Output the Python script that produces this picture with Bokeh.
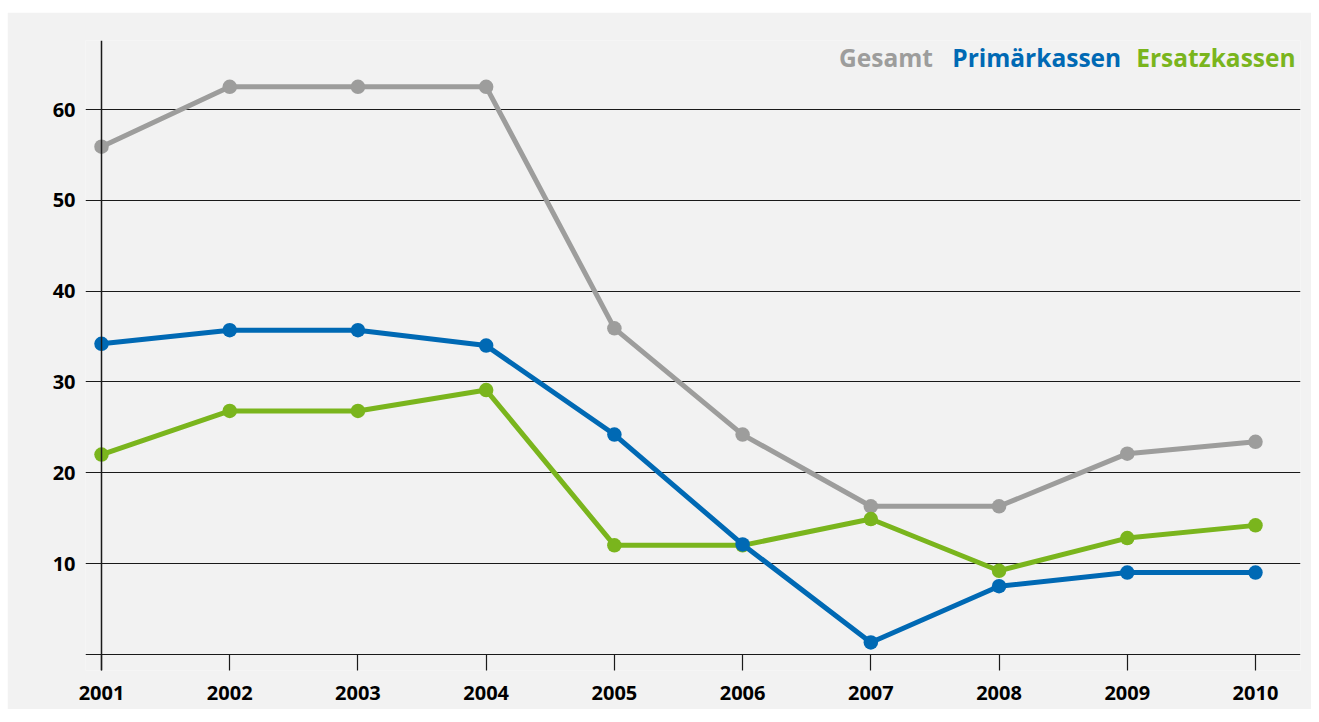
from bokeh.plotting import figure
from bokeh.models import Range1d, FixedTicker, Span, Label, ColumnDataSource
from bokeh.embed import file_html
from bokeh.resources import INLINE

years = [2001, 2002, 2003, 2004, 2005, 2006, 2007, 2008, 2009, 2010]
gesamt = [55.9, 62.5, 62.5, 62.5, 35.9, 24.2, 16.3, 16.3, 22.1, 23.4]
primaer = [34.2, 35.7, 35.7, 34.0, 24.2, 12.1, 1.3, 7.5, 9.0, 9.0]
ersatz = [22.0, 26.8, 26.8, 29.1, 12.0, 12.0, 14.9, 9.2, 12.8, 14.2]
y_ticks = [10, 20, 30, 40, 50, 60]
grid_ticks = [0, 10, 20, 30, 40, 50, 60]

series = [
    ("Gesamt", gesamt, "#9d9d9c"),
    ("Ersatzkassen", ersatz, "#7ab51d"),
    ("Primärkassen", primaer, "#0069b4"),
]

BG = "#f2f2f2"
FONT = "Open Sans"

p = figure(width=1304, height=697, output_backend="svg", toolbar_location=None,
           x_range=Range1d(2000.8752, 2010.351), y_range=Range1d(-1.784, 67.60),
           min_border_left=78, min_border_right=11, min_border_top=28, min_border_bottom=39)
p.margin = (12, 8, 13, 7)
p.background_fill_color = BG
p.border_fill_color = BG
p.outline_line_color = None

# grid
p.xgrid.visible = False
p.ygrid.ticker = FixedTicker(ticks=grid_ticks)
p.ygrid.grid_line_color = "#1a1a1a"
p.ygrid.grid_line_width = 1.2

# axes
xa = p.xaxis[0]
xa.ticker = FixedTicker(ticks=years)
xa.axis_line_color = None
xa.major_tick_in = 16
xa.major_tick_out = 0
xa.major_tick_line_color = "#1a1a1a"
xa.major_tick_line_width = 1.2
xa.minor_tick_line_color = None
xa.major_label_text_font = FONT
xa.major_label_text_font_style = "bold"
xa.major_label_text_font_size = "20px"
xa.major_label_text_color = "#000000"
xa.major_label_standoff = 15

ya = p.yaxis[0]
ya.ticker = FixedTicker(ticks=y_ticks)
ya.axis_line_color = None
ya.major_tick_in = 0
ya.major_tick_out = 0
ya.minor_tick_line_color = None
ya.major_label_text_font = FONT
ya.major_label_text_font_style = "bold"
ya.major_label_text_font_size = "20px"
ya.major_label_text_color = "#000000"
ya.major_label_standoff = 10

p.add_layout(Span(location=years[0], dimension="height", line_color="#1a1a1a", line_width=1.5))

for name, vals, color in series:
    src = ColumnDataSource(dict(x=years, y=vals))
    p.line("x", "y", source=src, line_color=color, line_width=5)
    p.scatter("x", "y", source=src, size=14.5, fill_color=color, line_color=None)

legend_pos = [("Gesamt", "#9d9d9c", 2006.752), ("Primärkassen", "#0069b4", 2007.635),
              ("Ersatzkassen", "#7ab51d", 2009.07)]
for text, color, xpos in legend_pos:
    p.add_layout(Label(x=xpos, y=65.75, text=text, text_color=color, text_font=FONT,
                       text_font_style="bold", text_font_size="24.5px",
                       text_baseline="alphabetic", text_align="left"))

open("out.html", "w").write(file_html(p, INLINE))
